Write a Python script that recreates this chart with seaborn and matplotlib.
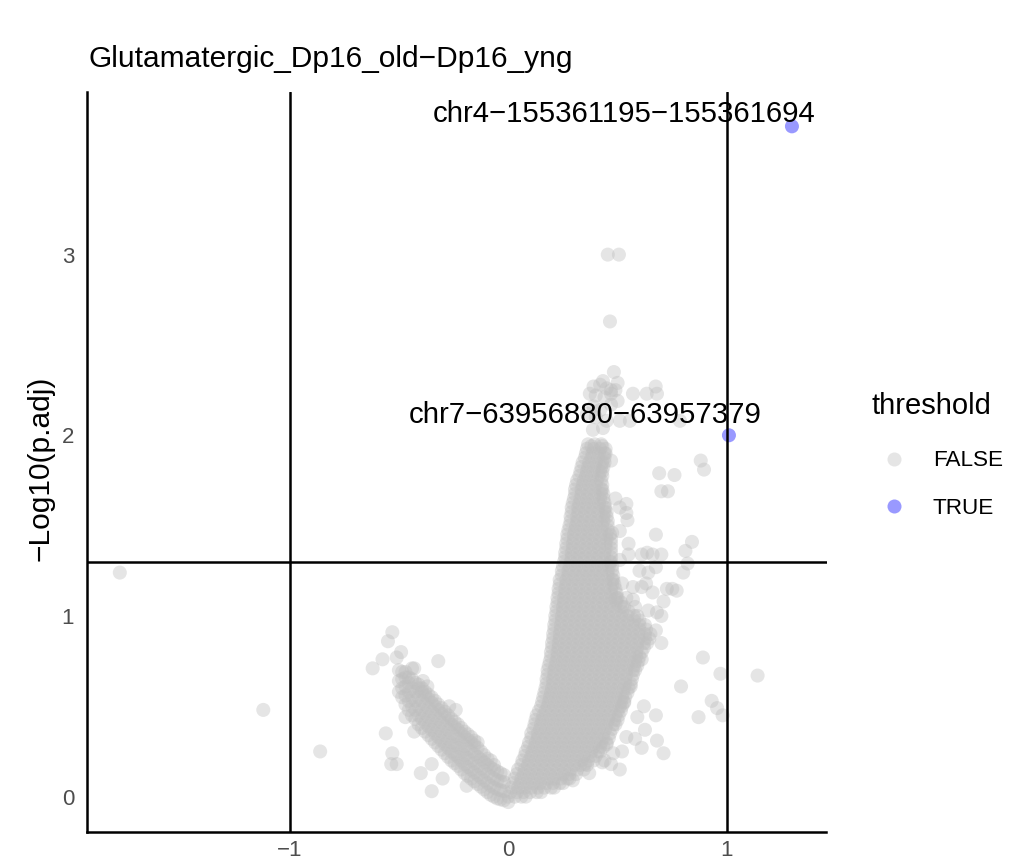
import matplotlib
matplotlib.use("Agg")
import matplotlib.pyplot as plt
from matplotlib.lines import Line2D
import seaborn as sns
import pandas as pd

# ---- data (log2 fold change vs -log10 adjusted p) ----
# dense right arm of the volcano: (y, [x values along that row])
right_arm_rows = [
    (0.000, [0.00, 0.03, 0.06, 0.08]),
    (0.025, [0.01, 0.04, 0.07, 0.10, 0.13, 0.15]),
    (0.050, [0.015, 0.045, 0.075, 0.105, 0.135, 0.165, 0.195, 0.21]),
    (0.075, [0.025, 0.055, 0.085, 0.115, 0.145, 0.175, 0.205, 0.235, 0.25]),
    (0.100, [0.03, 0.06, 0.09, 0.12, 0.15, 0.18, 0.21, 0.24, 0.27, 0.28]),
    (0.125, [0.04, 0.07, 0.10, 0.13, 0.16, 0.19, 0.22, 0.25, 0.28, 0.31]),
    (0.150, [0.045, 0.075, 0.105, 0.135, 0.165, 0.195, 0.225, 0.255, 0.285, 0.315, 0.345]),
    (0.175, [0.06, 0.09, 0.12, 0.15, 0.18, 0.21, 0.24, 0.27, 0.30, 0.33, 0.36]),
    (0.200, [0.065, 0.095, 0.125, 0.155, 0.185, 0.215, 0.245, 0.275, 0.305, 0.335, 0.365, 0.39]),
    (0.225, [0.075, 0.105, 0.135, 0.165, 0.195, 0.225, 0.255, 0.285, 0.315, 0.345, 0.375, 0.40]),
    (0.250, [0.08, 0.11, 0.14, 0.17, 0.20, 0.23, 0.26, 0.29, 0.32, 0.35, 0.38, 0.41, 0.42]),
    (0.275, [0.09, 0.12, 0.15, 0.18, 0.21, 0.24, 0.27, 0.30, 0.33, 0.36, 0.39, 0.42, 0.435]),
    (0.300, [0.095, 0.125, 0.155, 0.185, 0.215, 0.245, 0.275, 0.305, 0.335, 0.365, 0.395, 0.425, 0.45]),
    (0.325, [0.105, 0.135, 0.165, 0.195, 0.225, 0.255, 0.285, 0.315, 0.345, 0.375, 0.405, 0.435, 0.46]),
    (0.350, [0.105, 0.135, 0.165, 0.195, 0.225, 0.255, 0.285, 0.315, 0.345, 0.375, 0.405, 0.435, 0.465]),
    (0.375, [0.115, 0.145, 0.175, 0.205, 0.235, 0.265, 0.295, 0.325, 0.355, 0.385, 0.415, 0.445, 0.475]),
    (0.400, [0.12, 0.15, 0.18, 0.21, 0.24, 0.27, 0.30, 0.33, 0.36, 0.39, 0.42, 0.45, 0.48, 0.49]),
    (0.425, [0.125, 0.155, 0.185, 0.215, 0.245, 0.275, 0.305, 0.335, 0.365, 0.395, 0.425, 0.455, 0.485, 0.50]),
    (0.450, [0.13, 0.16, 0.19, 0.22, 0.25, 0.28, 0.31, 0.34, 0.37, 0.40, 0.43, 0.46, 0.49, 0.505]),
    (0.475, [0.14, 0.17, 0.20, 0.23, 0.26, 0.29, 0.32, 0.35, 0.38, 0.41, 0.44, 0.47, 0.50, 0.515]),
    (0.500, [0.15, 0.18, 0.21, 0.24, 0.27, 0.30, 0.33, 0.36, 0.39, 0.42, 0.45, 0.48, 0.51, 0.52]),
    (0.525, [0.155, 0.185, 0.215, 0.245, 0.275, 0.305, 0.335, 0.365, 0.395, 0.425, 0.455, 0.485, 0.515, 0.53]),
    (0.550, [0.16, 0.19, 0.22, 0.25, 0.28, 0.31, 0.34, 0.37, 0.40, 0.43, 0.46, 0.49, 0.52, 0.535]),
    (0.575, [0.165, 0.195, 0.225, 0.255, 0.285, 0.315, 0.345, 0.375, 0.405, 0.435, 0.465, 0.495, 0.525, 0.545]),
    (0.600, [0.17, 0.20, 0.23, 0.26, 0.29, 0.32, 0.35, 0.38, 0.41, 0.44, 0.47, 0.50, 0.53, 0.55]),
    (0.625, [0.175, 0.205, 0.235, 0.265, 0.295, 0.325, 0.355, 0.385, 0.415, 0.445, 0.475, 0.505, 0.535, 0.56]),
    (0.650, [0.175, 0.205, 0.235, 0.265, 0.295, 0.325, 0.355, 0.385, 0.415, 0.445, 0.475, 0.505, 0.535, 0.565]),
    (0.675, [0.18, 0.21, 0.24, 0.27, 0.30, 0.33, 0.36, 0.39, 0.42, 0.45, 0.48, 0.51, 0.54, 0.57]),
    (0.700, [0.18, 0.21, 0.24, 0.27, 0.30, 0.33, 0.36, 0.39, 0.42, 0.45, 0.48, 0.51, 0.54, 0.57, 0.58]),
    (0.725, [0.185, 0.215, 0.245, 0.275, 0.305, 0.335, 0.365, 0.395, 0.425, 0.455, 0.485, 0.515, 0.545, 0.575, 0.59]),
    (0.750, [0.19, 0.22, 0.25, 0.28, 0.31, 0.34, 0.37, 0.40, 0.43, 0.46, 0.49, 0.52, 0.55, 0.58, 0.595]),
    (0.775, [0.195, 0.225, 0.255, 0.285, 0.315, 0.345, 0.375, 0.405, 0.435, 0.465, 0.495, 0.525, 0.555, 0.585, 0.60]),
    (0.800, [0.195, 0.225, 0.255, 0.285, 0.315, 0.345, 0.375, 0.405, 0.435, 0.465, 0.495, 0.525, 0.555, 0.585, 0.61]),
    (0.825, [0.20, 0.23, 0.26, 0.29, 0.32, 0.35, 0.38, 0.41, 0.44, 0.47, 0.50, 0.53, 0.56, 0.59, 0.62]),
    (0.850, [0.20, 0.23, 0.26, 0.29, 0.32, 0.35, 0.38, 0.41, 0.44, 0.47, 0.50, 0.53, 0.56, 0.59, 0.62, 0.635]),
    (0.875, [0.205, 0.235, 0.265, 0.295, 0.325, 0.355, 0.385, 0.415, 0.445, 0.475, 0.505, 0.535, 0.565, 0.595, 0.625, 0.645]),
    (0.900, [0.205, 0.235, 0.265, 0.295, 0.325, 0.355, 0.385, 0.415, 0.445, 0.475, 0.505, 0.535, 0.565, 0.595, 0.625, 0.65]),
    (0.925, [0.21, 0.24, 0.27, 0.30, 0.33, 0.36, 0.39, 0.42, 0.45, 0.48, 0.51, 0.54, 0.57, 0.60, 0.63]),
    (0.950, [0.21, 0.24, 0.27, 0.30, 0.33, 0.36, 0.39, 0.42, 0.45, 0.48, 0.51, 0.54, 0.57, 0.60, 0.625]),
    (0.975, [0.215, 0.245, 0.275, 0.305, 0.335, 0.365, 0.395, 0.425, 0.455, 0.485, 0.515, 0.545, 0.575, 0.60]),
    (1.000, [0.215, 0.245, 0.275, 0.305, 0.335, 0.365, 0.395, 0.425, 0.455, 0.485, 0.515, 0.545, 0.575, 0.59]),
    (1.025, [0.22, 0.25, 0.28, 0.31, 0.34, 0.37, 0.40, 0.43, 0.46, 0.49, 0.52, 0.55]),
    (1.050, [0.22, 0.25, 0.28, 0.31, 0.34, 0.37, 0.40, 0.43, 0.46, 0.49, 0.52, 0.53]),
    (1.075, [0.225, 0.255, 0.285, 0.315, 0.345, 0.375, 0.405, 0.435, 0.465, 0.495, 0.515]),
    (1.100, [0.225, 0.255, 0.285, 0.315, 0.345, 0.375, 0.405, 0.435, 0.465, 0.495, 0.50]),
    (1.125, [0.23, 0.26, 0.29, 0.32, 0.35, 0.38, 0.41, 0.44, 0.47, 0.495]),
    (1.150, [0.23, 0.26, 0.29, 0.32, 0.35, 0.38, 0.41, 0.44, 0.47, 0.49]),
    (1.175, [0.235, 0.265, 0.295, 0.325, 0.355, 0.385, 0.415, 0.445, 0.475, 0.485]),
    (1.200, [0.235, 0.265, 0.295, 0.325, 0.355, 0.385, 0.415, 0.445, 0.475, 0.48]),
    (1.225, [0.245, 0.275, 0.305, 0.335, 0.365, 0.395, 0.425, 0.455, 0.48]),
    (1.250, [0.245, 0.275, 0.305, 0.335, 0.365, 0.395, 0.425, 0.455, 0.475]),
    (1.275, [0.25, 0.28, 0.31, 0.34, 0.37, 0.40, 0.43, 0.46, 0.475]),
    (1.300, [0.255, 0.285, 0.315, 0.345, 0.375, 0.405, 0.435, 0.465, 0.47]),
    (1.325, [0.26, 0.29, 0.32, 0.35, 0.38, 0.41, 0.44, 0.47]),
    (1.350, [0.26, 0.29, 0.32, 0.35, 0.38, 0.41, 0.44, 0.47]),
    (1.375, [0.265, 0.295, 0.325, 0.355, 0.385, 0.415, 0.445, 0.47]),
    (1.400, [0.265, 0.295, 0.325, 0.355, 0.385, 0.415, 0.445, 0.47]),
    (1.425, [0.27, 0.30, 0.33, 0.36, 0.39, 0.42, 0.45, 0.47]),
    (1.450, [0.27, 0.30, 0.33, 0.36, 0.39, 0.42, 0.45, 0.465]),
    (1.475, [0.275, 0.305, 0.335, 0.365, 0.395, 0.425, 0.455]),
    (1.500, [0.28, 0.31, 0.34, 0.37, 0.40, 0.43, 0.455]),
    (1.525, [0.285, 0.315, 0.345, 0.375, 0.405, 0.435, 0.455]),
    (1.550, [0.285, 0.315, 0.345, 0.375, 0.405, 0.435, 0.45]),
    (1.575, [0.29, 0.32, 0.35, 0.38, 0.41, 0.44, 0.45]),
    (1.600, [0.29, 0.32, 0.35, 0.38, 0.41, 0.44, 0.445]),
    (1.625, [0.295, 0.325, 0.355, 0.385, 0.415, 0.44]),
    (1.650, [0.30, 0.33, 0.36, 0.39, 0.42, 0.435]),
    (1.675, [0.305, 0.335, 0.365, 0.395, 0.425, 0.435]),
    (1.700, [0.305, 0.335, 0.365, 0.395, 0.425, 0.43]),
    (1.725, [0.31, 0.34, 0.37, 0.40, 0.43]),
    (1.750, [0.315, 0.345, 0.375, 0.405, 0.425]),
    (1.775, [0.325, 0.355, 0.385, 0.415, 0.43]),
    (1.800, [0.33, 0.36, 0.39, 0.42, 0.43]),
    (1.825, [0.335, 0.365, 0.395, 0.425, 0.435]),
    (1.850, [0.34, 0.37, 0.40, 0.43, 0.44]),
    (1.875, [0.35, 0.38, 0.41, 0.44]),
    (1.900, [0.355, 0.385, 0.415, 0.445]),
    (1.925, [0.36, 0.39, 0.42, 0.445]),
    (1.950, [0.365, 0.395, 0.425]),
]

# dense left arm: (x, [y values along that column])
left_arm_cols = [
    (-0.020, [-0.02, 0.03, 0.08, 0.12]),
    (-0.035, [-0.015, 0.035, 0.085, 0.13]),
    (-0.050, [-0.01, 0.04, 0.09, 0.14]),
    (-0.065, [0.00, 0.05, 0.10, 0.15, 0.175]),
    (-0.080, [0.01, 0.06, 0.11, 0.16, 0.20]),
    (-0.095, [0.025, 0.075, 0.125, 0.175, 0.21]),
    (-0.110, [0.04, 0.09, 0.14, 0.19, 0.23]),
    (-0.125, [0.055, 0.105, 0.155, 0.205, 0.25]),
    (-0.140, [0.07, 0.12, 0.17, 0.22, 0.27, 0.30]),
    (-0.155, [0.085, 0.135, 0.185, 0.235, 0.285, 0.31]),
    (-0.170, [0.10, 0.15, 0.20, 0.25, 0.30, 0.33]),
    (-0.185, [0.115, 0.165, 0.215, 0.265, 0.315, 0.345]),
    (-0.200, [0.13, 0.18, 0.23, 0.28, 0.33, 0.36]),
    (-0.215, [0.15, 0.20, 0.25, 0.30, 0.35, 0.38]),
    (-0.230, [0.17, 0.22, 0.27, 0.32, 0.37, 0.40]),
    (-0.245, [0.185, 0.235, 0.285, 0.335, 0.385, 0.415]),
    (-0.260, [0.20, 0.25, 0.30, 0.35, 0.40, 0.43]),
    (-0.275, [0.22, 0.27, 0.32, 0.37, 0.42, 0.45]),
    (-0.290, [0.24, 0.29, 0.34, 0.39, 0.44, 0.47]),
    (-0.305, [0.26, 0.31, 0.36, 0.41, 0.46, 0.49]),
    (-0.320, [0.28, 0.33, 0.38, 0.43, 0.48, 0.51]),
    (-0.335, [0.30, 0.35, 0.40, 0.45, 0.50, 0.53]),
    (-0.350, [0.32, 0.37, 0.42, 0.47, 0.52, 0.55]),
    (-0.365, [0.34, 0.39, 0.44, 0.49, 0.54, 0.565]),
    (-0.380, [0.36, 0.41, 0.46, 0.51, 0.56, 0.58]),
    (-0.395, [0.38, 0.43, 0.48, 0.53, 0.58, 0.60]),
    (-0.410, [0.40, 0.45, 0.50, 0.55, 0.60, 0.62]),
    (-0.425, [0.43, 0.48, 0.53, 0.58, 0.63]),
    (-0.440, [0.45, 0.50, 0.55, 0.60, 0.65]),
    (-0.455, [0.48, 0.53, 0.58, 0.63, 0.66]),
    (-0.470, [0.51, 0.56, 0.61, 0.66]),
    (-0.485, [0.55, 0.60, 0.65, 0.69]),
    (-0.500, [0.58, 0.64, 0.70]),
]

# scattered non-significant points
sparse_x = [
    0.00, -1.776, -1.12, -0.86,
    -0.53, -0.55, -0.575, -0.62, -0.51, -0.44, -0.56, -0.53, -0.535, -0.51,
    -0.40, -0.32, -0.35, -0.35, -0.30, -0.39, -0.37, -0.43, -0.47, -0.27,
    -0.24, -0.43, -0.47, -0.19, -0.49,
    0.88, 0.895, 0.69, 0.76, 0.70, 0.73, 0.675, 0.84, 0.81, 0.80, 0.77, 0.75,
    0.89, 0.97, 1.14, 0.79, 0.93, 0.955, 0.98, 0.87,
    0.62, 0.59, 0.675, 0.625, 0.54, 0.58, 0.68, 0.61, 0.71, 0.52, 0.48, 0.45,
    0.44, 0.51, 0.47, 0.37, 0.35, 0.295, 0.43, 0.53, 0.56, 0.61, 0.70, 0.675,
    0.70, 0.71, 0.66, 0.61, 0.54, 0.58, 0.64,
    0.51, 0.55, 0.61, 0.66, 0.70, 0.60, 0.64, 0.675, 0.52, 0.57, 0.63, 0.68,
    0.57, 0.49, 0.54, 0.51, 0.545, 0.54, 0.49, 0.55, 0.51, 0.475, 0.47, 0.44,
    0.82, 0.725, 0.635,
    0.455, 0.506, 0.465, 0.483, 0.433, 0.50, 0.39, 0.42, 0.45, 0.47, 0.40,
    0.44, 0.47, 0.49, 0.373, 0.57, 0.633, 0.674, 0.68, 0.50, 0.387, 0.433,
    0.51, 0.556, 0.785, 0.38, 0.43, 0.40, 0.36, 0.42, 0.45, 0.47, 0.39,
]
sparse_y = [
    -0.03, 1.24, 0.48, 0.25,
    0.91, 0.86, 0.76, 0.71, 0.77, 0.71, 0.35, 0.24, 0.18, 0.18,
    0.13, 0.75, 0.03, 0.18, 0.10, 0.64, 0.61, 0.71, 0.69, 0.50,
    0.48, 0.36, 0.44, 0.06, 0.80,
    1.86, 1.81, 1.79, 1.78, 1.69, 1.69, 1.45, 1.41, 1.36, 1.24, 1.14, 1.15,
    0.77, 0.68, 0.67, 0.61, 0.53, 0.49, 0.45, 0.44,
    0.50, 0.44, 0.45, 0.37, 0.33, 0.32, 0.31, 0.27, 0.24, 0.25, 0.24, 0.29,
    0.20, 0.15, 0.18, 0.13, 0.18, 0.09, 0.19, 0.52, 0.61, 0.76, 0.85, 0.92,
    1.00, 1.08, 1.13, 1.16, 1.10, 1.05, 1.03,
    1.31, 1.34, 1.34, 1.34, 1.34, 1.25, 1.24, 1.27, 1.18, 1.16, 1.18, 1.02,
    1.09, 1.09, 1.57, 1.60, 1.53, 1.62, 1.65, 1.40, 1.47, 1.46, 1.86, 1.90,
    1.29, 1.15, 1.35,
    3.00, 3.00, 2.63, 2.35, 2.30, 2.29, 2.27, 2.28, 2.26, 2.25, 2.22,
    2.21, 2.23, 2.25, 2.23, 2.23, 2.23, 2.27, 2.23, 2.19, 2.03, 2.04,
    2.08, 2.08, 2.08, 1.94, 1.94, 2.10, 2.12, 2.14, 2.08, 2.17, 2.16,
]

# significant points and their labels
sig_x = [1.009, 1.297]
sig_y = [2.00, 3.71]
sig_labels = ["chr7\u221263956880\u221263957379", "chr4\u2212155361195\u2212155361694"]
label_x = [0.353, 0.528]
label_y = [2.066, 3.735]

title = "Glutamatergic_Dp16_old\u2212Dp16_yng"

# ---- assemble ----
xs, ys = [], []
for y, row in right_arm_rows:
    xs += row
    ys += [y] * len(row)
for x, col in left_arm_cols:
    xs += [x] * len(col)
    ys += col
xs += sparse_x
ys += sparse_y
df = pd.DataFrame({"logFC": xs + sig_x, "nlp": ys + sig_y,
                   "threshold": ["FALSE"] * len(xs) + ["TRUE"] * len(sig_x)})

sns.set_style("white")
plt.rcParams["font.family"] = ["Liberation Sans", "DejaVu Sans"]
plt.rcParams["text.color"] = "black"
plt.rcParams["axes.labelcolor"] = "black"

W, H = 1014, 865
fig = plt.figure(figsize=(W / 100, H / 100), dpi=100)
ax = fig.add_axes([87 / W, 1 - 831.5 / H, (826.5 - 87) / W, (831.5 - 92) / H])

palette = {"FALSE": "#BEBEBE", "TRUE": "#0000FF"}
sns.scatterplot(data=df, x="logFC", y="nlp", hue="threshold", palette=palette,
                alpha=0.4, s=102, linewidth=0, legend=False, ax=ax, zorder=1)

ax.axvline(-1, color="black", lw=1.8, zorder=3)
ax.axvline(1, color="black", lw=1.8, zorder=3)
ax.axhline(1.3, color="black", lw=1.8, zorder=3)

for lx, ly, lab in zip(label_x, label_y, sig_labels):
    ax.text(lx, ly, lab, ha="center", va="baseline", fontsize=21.2, color="black", zorder=4)

ax.set_xlim(-1.926, 1.455)
ax.set_ylim(-0.193, 3.90)
ax.set_xticks([-1, 0, 1])
ax.set_yticks([0, 1, 2, 3])
ax.set_xlabel("")
ax.set_ylabel("\u2212Log10(p.adj)", fontsize=21.5, color="black")
ax.yaxis.label.set_verticalalignment("center")
ax.yaxis.set_label_coords((40.5 - 87) / (826.5 - 87), (831.5 - 468.5) / (831.5 - 92))
sns.despine(ax=ax)
for side in ("left", "bottom"):
    ax.spines[side].set_linewidth(1.8)
    ax.spines[side].set_color("black")
ax.tick_params(width=1.6, color="#333333", labelcolor="#4D4D4D", labelsize=16)
ax.tick_params(axis="x", length=5, pad=1.2)
ax.tick_params(axis="y", length=6, pad=3.2)
ax.grid(False)

fig.text(88 / W, 1 - 67 / H, title, fontsize=21.5, ha="left", va="baseline", color="black")

handles = [Line2D([], [], marker="o", ls="", color=palette[k], alpha=0.4,
                  markersize=10.1, markeredgewidth=0) for k in ("FALSE", "TRUE")]
leg = ax.legend(handles, ["FALSE", "TRUE"], title="threshold", loc="upper left",
                bbox_to_anchor=(871 / W, 1 - 392 / H), bbox_transform=fig.transFigure,
                frameon=False, fontsize=16.2, title_fontsize=21, handlelength=2.05,
                handletextpad=0.7, labelspacing=1.17, borderpad=0, borderaxespad=0,
                alignment="left")
for t in leg.get_texts():
    t.set_color("black")
leg.get_title().set_color("black")
leg._legend_box.sep = 1.17 * 16.2 + 3

fig.savefig("out.png", dpi=100)
